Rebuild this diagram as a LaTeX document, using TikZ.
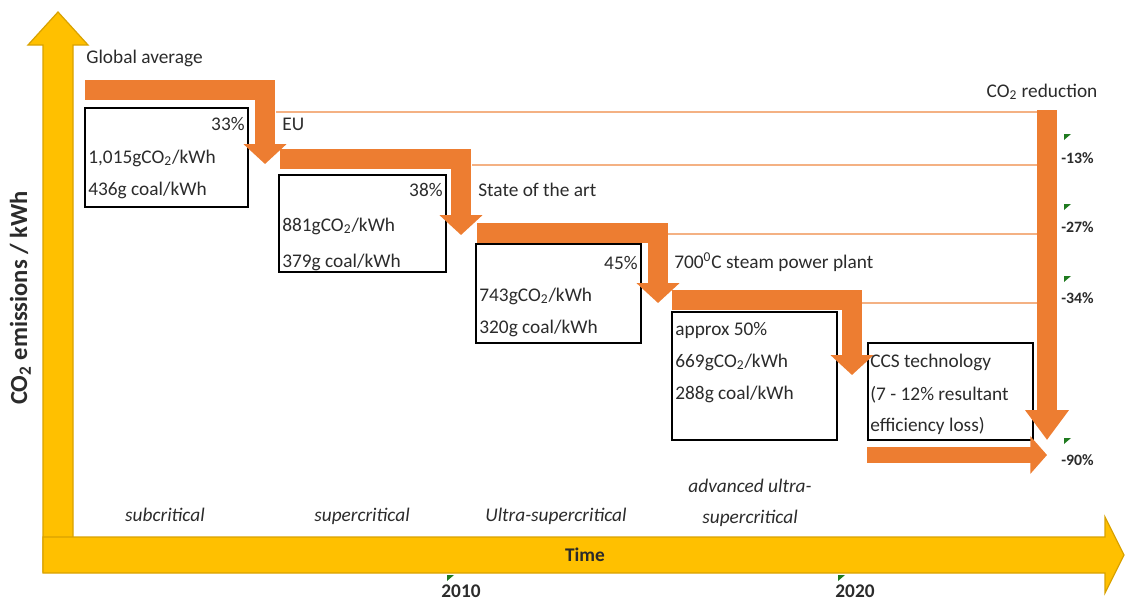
\documentclass[tikz,border=0pt]{standalone}
\usepackage{fontspec}
\setmainfont{Carlito}
\usetikzlibrary{arrows.meta,positioning}
\definecolor{axisyellow}{HTML}{FFC000}
\definecolor{axisedge}{HTML}{D9A200}
\definecolor{steporange}{HTML}{ED7D31}
\definecolor{guideorange}{HTML}{F4B183}
\definecolor{flaggreen}{HTML}{1F7A1F}
\definecolor{inkgray}{HTML}{2B2B2B}
\newcommand{\cotwo}{CO\textsubscript{2}}
\newcommand{\flagmark}[1]{\fill[flaggreen] #1 -- ++(7,0) -- ++(-7,6) -- cycle;}
\tikzset{
>=Stealth,
label text/.style={inner sep=0pt,text=inkgray,font=\fontsize{11}{13}\selectfont,text height=1.6ex,text depth=.4ex},
left text/.style={label text,anchor=west},
right text/.style={label text,anchor=east},
era text/.style={label text,font=\fontsize{11}{13}\selectfont\itshape},
axis text/.style={label text,font=\fontsize{11}{13}\selectfont\bfseries},
cut text/.style={label text,anchor=west,font=\fontsize{9}{10}\selectfont\bfseries},
databox/.style={draw=black,line width=0.85pt,inner sep=0pt,outer sep=0pt},
steparrow/.style={draw=steporange,line width=11.3pt,line join=miter,-{Triangle[width=23.8pt,length=11.3pt]}},
guide/.style={draw=guideorange,line width=0.9pt},
axis/.style={fill=axisyellow,draw=axisedge,line width=0.7pt}}

\begin{document}
\begin{tikzpicture}[x=0.02cm,y=-0.02cm]
\useasboundingbox (0,0) rectangle (1126,606);

% axes
\path[axis] (43,572) -- (43,45) -- (28,45) -- (58,12) -- (88,45) -- (73,45) -- (73,572) -- cycle;
\path[axis] (43,537) -- (1105,537) -- (1105,517) -- (1124,555) -- (1105,593) -- (1105,573) -- (43,573) -- cycle;
\node[axis text,rotate=90,font=\fontsize{14}{16}\selectfont\bfseries] (ylab) at (22,298) {\cotwo\ emissions / kWh};
\node[axis text] (time) at (585,556) {Time};
\node[axis text] (y2010) at (461,592) {2010};
\node[axis text] (y2020) at (855,592) {2020};
\flagmark{(447,575)}
\flagmark{(838,575)}

% guide lines
\draw[guide] (276,112) -- (1037,112);
\draw[guide] (472,165) -- (1037,165);
\draw[guide] (668,234) -- (1037,234);
\draw[guide] (862,303) -- (1037,303);

% data boxes
\node[databox,minimum width=3.26cm,minimum height=1.98cm] (box1) at (166.5,157.5) {};
\node[databox,minimum width=3.34cm,minimum height=1.94cm] (box2) at (362.5,223.5) {};
\node[databox,minimum width=3.30cm,minimum height=1.98cm] (box3) at (558.5,293.5) {};
\node[databox,minimum width=3.30cm,minimum height=2.56cm] (box4) at (754.5,376) {};
\node[databox,minimum width=3.30cm,minimum height=1.94cm] (box5) at (950.5,391.5) {};

% steps
\coordinate (s1) at (85,90);   \coordinate (t1) at (265,164);
\coordinate (s2) at (280,159); \coordinate (t2) at (461,235);
\coordinate (s3) at (477,233); \coordinate (t3) at (658,303);
\coordinate (s4) at (672,300); \coordinate (t4) at (852,375);
\draw[steparrow] (s1) -| (t1);
\draw[steparrow] (s2) -| (t2);
\draw[steparrow] (s3) -| (t3);
\draw[steparrow] (s4) -| (t4);
\coordinate (s5) at (867,455); \coordinate (t5) at (1047,455);
\draw[steparrow,line width=9.6pt,-{Triangle[width=21pt,length=9.5pt]}] (s5) -- (t5);
\coordinate (s6) at (1047,110); \coordinate (t6) at (1047,440);
\draw[steparrow,-{Triangle[width=23.8pt,length=17pt]}] (s6) -- (t6);

% texts
\node[left text] (global) at (86,58) {Global average};
\node[right text] (p33) at (245,125) {33\%};
\node[left text] (c1) at (88,158) {1,015g\cotwo/kWh};
\node[left text] (k1) at (88,190) {436g coal/kWh};
\node[left text] (eu) at (282,125) {EU};
\node[right text] (p38) at (443,191) {38\%};
\node[left text] (c2) at (282,226) {881g\cotwo/kWh};
\node[left text] (k2) at (282,262) {379g coal/kWh};
\node[left text] (sota) at (478,191) {State of the art};
\node[right text] (p45) at (638,264) {45\%};
\node[left text] (c3) at (479,296) {743g\cotwo/kWh};
\node[left text] (k3) at (479,328) {320g coal/kWh};
\node[left text] (steam) at (674,263) {700\textsuperscript{0}C steam power plant};
\node[left text] (p50) at (675,330) {approx 50\%};
\node[left text] (c4) at (675,362) {669g\cotwo/kWh};
\node[left text] (k4) at (675,394) {288g coal/kWh};
\node[left text] (ccs) at (870,362) {CCS technology};
\node[left text] (loss) at (870,395) {(7 - 12\% resultant};
\node[left text] (eff) at (870,426) {efficiency loss)};
\node[label text] (red) at (1042,92) {\cotwo\ reduction};

% reductions
\node[cut text] (r13) at (1061,158) {-13\%};
\node[cut text] (r27) at (1061,227) {-27\%};
\node[cut text] (r34) at (1061,298) {-34\%};
\node[cut text] (r90) at (1061,460) {-90\%};
\flagmark{(1064,134)}
\flagmark{(1064,204)}
\flagmark{(1064,276)}
\flagmark{(1064,438)}

% eras
\node[era text] (subc) at (165,516) {subcritical};
\node[era text] (supc) at (362,516) {supercritical};
\node[era text] (usc) at (556,516) {Ultra-supercritical};
\node[era text] (ausc1) at (750,487) {advanced ultra-};
\node[era text] (ausc2) at (750,518) {supercritical};

\end{tikzpicture}
\end{document}
